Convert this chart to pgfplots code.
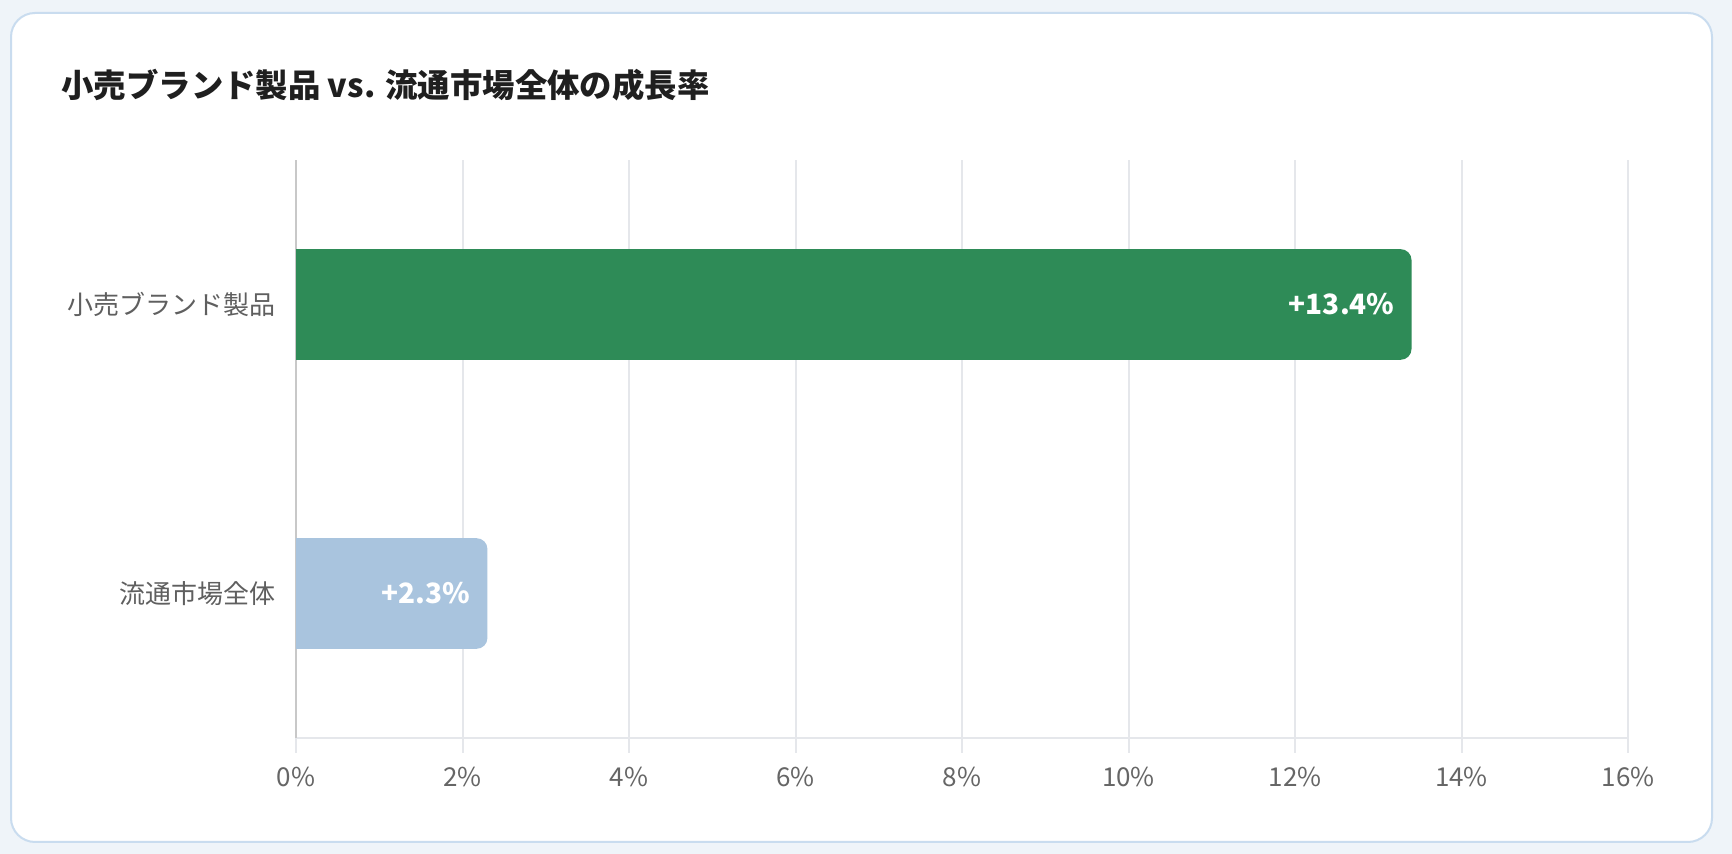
\documentclass[border=0pt]{standalone}
\usepackage{fontspec}
\setmainfont{Noto Sans CJK JP}
\usepackage{pgfplots}
\pgfplotsset{compat=1.18}
\definecolor{pagebg}{HTML}{EFF4F9}
\definecolor{cardedge}{HTML}{C9DCEF}
\definecolor{brandgreen}{HTML}{2E8B57}
\definecolor{marketblue}{HTML}{A9C4DE}
\definecolor{gridgray}{HTML}{E5E7EB}
\definecolor{axisgray}{HTML}{C8C8C8}
\definecolor{ticktext}{HTML}{666666}
\definecolor{labeltext}{HTML}{5F5F5F}
\definecolor{titletext}{HTML}{1F1F1F}

\begin{document}
\begin{tikzpicture}
% page and card
\fill[pagebg] (0,0) rectangle (866pt,427pt);
\filldraw[fill=white, draw=cardedge, line width=1pt, rounded corners=12pt] (5.5pt,6pt) rectangle (856pt,420.5pt);
\node[anchor=west, inner sep=0pt, text=titletext, font=\fontsize{16.2}{19}\selectfont\bfseries]
  at (30.5pt,384.5pt) {小売ブランド製品 vs. 流通市場全体の成長率};

\begin{axis}[
  at={(148pt,58pt)}, anchor=south west,
  scale only axis, width=666pt, height=289pt,
  xbar, bar width=0.383, bar shift=0pt,
  xmin=0, xmax=16, ymin=-0.5, ymax=1.5,
  xtick={0,2,...,16},
  xticklabel={\pgfmathprintnumber{\tick}\%},
  ytick={0,1}, yticklabels={流通市場全体, 小売ブランド製品},
  axis x line=bottom, axis y line=left, axis line style={-},
  x axis line style={draw=gridgray, line width=1pt},
  y axis line style={draw=axisgray, line width=1pt},
  xmajorgrids, grid style={draw=gridgray, line width=1pt},
  xtick align=outside, major tick length=7.5pt,
  xtick style={draw=gridgray, line width=1pt},
  ytick style={draw=none},
  xticklabel style={font=\fontsize{13}{15}\selectfont, text=ticktext, yshift=-3.3pt},
  yticklabel style={font=\fontsize{13}{15}\selectfont, text=labeltext, xshift=-3.2pt},
  /pgf/number format/assume math mode=true,
  point meta=explicit symbolic,
]
% square left part of each bar
\addplot[fill=brandgreen, draw=none] coordinates {(1,1)};
\addplot[fill=marketblue, draw=none] coordinates {(1,0)};
% full bars with rounded ends and value labels
\addplot[fill=brandgreen, draw=none, rounded corners=5.5pt,
  nodes near coords, nodes near coords style={anchor=east, xshift=-5pt, text=white,
  font=\fontsize{14}{16}\selectfont\bfseries}]
  coordinates {(13.4,1) [+13.4\%]};
\addplot[fill=marketblue, draw=none, rounded corners=5.5pt,
  nodes near coords, nodes near coords style={anchor=east, xshift=-5pt, text=white,
  font=\fontsize{14}{16}\selectfont\bfseries}]
  coordinates {(2.3,0) [+2.3\%]};
\end{axis}
\end{tikzpicture}
\end{document}
